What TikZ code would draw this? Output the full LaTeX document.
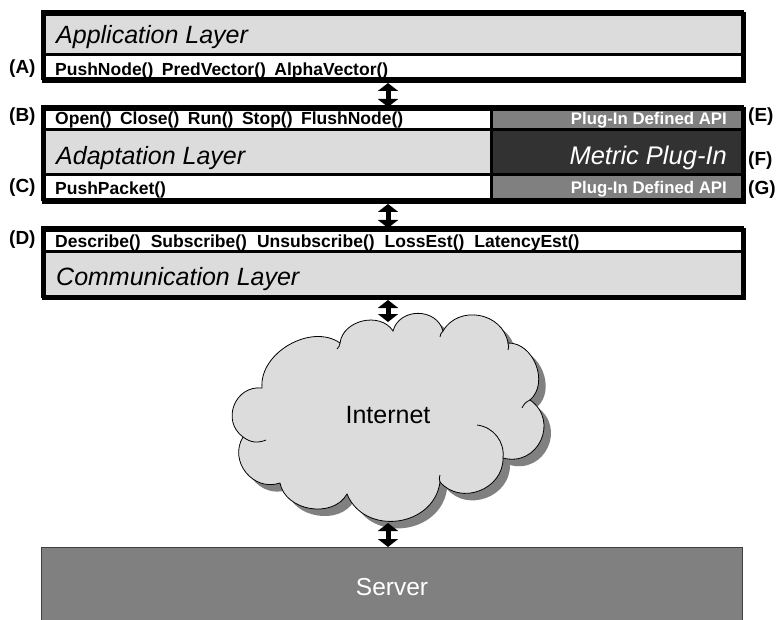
\documentclass[tikz,border=0pt]{standalone}
\usepackage{fontspec}
\setmainfont{Liberation Sans}
\usetikzlibrary{arrows.meta}
\definecolor{lgray}{RGB}{220,220,220}
\definecolor{mgray}{RGB}{128,128,128}
\definecolor{dgray}{RGB}{50,50,50}
\newcommand\gp{\hspace{8.5pt}}
\newcommand\gpd{\hspace{10pt}}
\begin{document}
\begin{tikzpicture}[x=1pt,y=1pt,
  cell/.style={draw=black, line width=3pt, anchor=north west, inner sep=0pt, outer sep=0pt},
  frame/.style={draw=black, line width=4pt, anchor=north west, inner sep=0pt, outer sep=2pt},
  ttl/.style={anchor=base west, inner sep=0pt, font=\itshape\fontsize{25}{29}\selectfont},
  mtr/.style={anchor=base east, inner sep=0pt, text=white, font=\itshape\fontsize{25.5}{29}\selectfont},
  api/.style={anchor=base west, inner sep=0pt, font=\bfseries\fontsize{17.5}{20}\selectfont},
  tag/.style={anchor=base west, inner sep=0pt, font=\bfseries\fontsize{19}{22}\selectfont},
  plug/.style={anchor=base east, inner sep=0pt, text=white, font=\bfseries\fontsize{16.8}{20}\selectfont},
  link/.style={line width=5pt, {Triangle[width=20pt,length=8pt]}-{Triangle[width=20pt,length=8pt]}},
  puff/.style={draw=black, line width=0.8pt},
  cloudp/.style={insert path={(262,-388)
    to[bend left=65,looseness=1.0] (340,-343)
    to[bend left=70,looseness=1.1] (393,-331)
    to[bend left=75,looseness=1.25] (443,-331)
    to[bend left=70,looseness=1.2] (508,-343)
    to[bend left=70,looseness=1.08] (530,-400)
    to[bend left=80,looseness=1.45] (503,-458)
    to[bend left=70,looseness=1.2] (440,-482)
    to[bend left=75,looseness=1.25] (347,-494)
    to[bend left=70,looseness=1.08] (280,-483)
    to[bend left=70,looseness=1.23] (243,-437)
    to[bend left=75,looseness=1.33] (262,-388) -- cycle}},
]
\useasboundingbox (0,0) rectangle (776,-620);

% Application layer block
\node[cell, fill=lgray, minimum width=700pt, minimum height=43pt] (appl) at (42,-12) {};
\node[cell, fill=white, minimum width=700pt, minimum height=24pt] (apia) at (42,-55) {};
\node[frame, minimum width=700pt, minimum height=67pt] (blka) at (42,-12) {};
\node[ttl] (tapp) at (56,-44) {Application Layer};
\node[api] (tapia) at (55,-75.5) {PushNode()\gp PredVector()\gp AlphaVector()};
\node[tag] (la) at (9,-74) {(A)};

% Adaptation layer block
\node[cell, fill=white, minimum width=449pt, minimum height=23pt] (rowb) at (42,-107) {};
\node[cell, fill=mgray, minimum width=251pt, minimum height=23pt] (rowe) at (491,-107) {};
\node[cell, fill=lgray, minimum width=449pt, minimum height=45pt] (adapt) at (42,-130) {};
\node[cell, fill=dgray, minimum width=251pt, minimum height=45pt] (metric) at (491,-130) {};
\node[cell, fill=white, minimum width=449pt, minimum height=25pt] (rowc) at (42,-175) {};
\node[cell, fill=mgray, minimum width=251pt, minimum height=25pt] (rowg) at (491,-175) {};
\node[frame, minimum width=700pt, minimum height=93pt] (blkb) at (42,-107) {};
\node[api] (tapib) at (55,-125) {Open()\gp Close()\gp Run()\gp Stop()\gp FlushNode()};
\node[ttl] (tadapt) at (56,-165) {Adaptation Layer};
\node[api] (tapic) at (55,-195) {PushPacket()};
\node[plug] (tpe) at (727,-124.5) {Plug-In Defined API};
\node[mtr] (tmetric) at (727,-165) {Metric Plug-In};
\node[plug] (tpg) at (727,-194) {Plug-In Defined API};
\node[tag] (lb) at (9,-122) {(B)};
\node[tag] (lc) at (9,-193) {(C)};
\node[tag] (le) at (748,-122) {(E)};
\node[tag] (lf) at (748,-166) {(F)};
\node[tag] (lg) at (748,-195) {(G)};

% Communication layer block
\node[cell, fill=white, minimum width=700pt, minimum height=24pt] (rowd) at (42,-228) {};
\node[cell, fill=lgray, minimum width=700pt, minimum height=44pt] (comm) at (42,-252) {};
\node[frame, minimum width=700pt, minimum height=68pt] (blkd) at (42,-228) {};
\node[api] (tapid) at (55,-247.5) {Describe()\gpd Subscribe()\gpd Unsubscribe()\gpd LossEst()\gpd LatencyEst()};
\node[ttl] (tcomm) at (56,-286) {Communication Layer};
\node[tag] (ld) at (9,-245) {(D)};

% Internet cloud
\fill[mgray, shift={(7,-7)}, cloudp];
\filldraw[fill=lgray, puff, cloudp];
\draw[puff] (477,-425) to[bend left=45] (503,-458);
\draw[puff] (266,-440) to[bend left=30] (243,-437);
\draw[puff] (340,-343) to[bend left=20] (337,-349);
\draw[puff] (443,-331) to[bend right=20] (440,-337);
\draw[puff] (508,-343) to[bend left=20] (508,-350);
\draw[puff] (530,-400) to[bend right=20] (522,-408);
\draw[puff] (440,-482) to[bend left=20] (440,-475);
\node[font=\fontsize{25}{29}\selectfont, inner sep=0pt] (tinet) at (388,-415) {Internet};
\coordinate (ctop) at (388,-322);
\coordinate (cbot) at (388,-523);

% Server
\node[draw=black!75, line width=1pt, fill=mgray, anchor=north west, minimum width=701pt, minimum height=80pt, inner sep=0pt, outer sep=0pt] (srv) at (41,-547) {};
\node[text=white, font=\fontsize{24.5}{28}\selectfont, anchor=base, inner sep=0pt] (tsrv) at (392,-595) {Server};

% connectors
\draw[link] (blka.south -| tinet) -- (blkb.north -| tinet);
\draw[link] (blkb.south -| tinet) -- (blkd.north -| tinet);
\draw[link] (blkd.south -| tinet) -- (ctop);
\draw[link] (cbot) -- (srv.north -| tinet);
\end{tikzpicture}
\end{document}
